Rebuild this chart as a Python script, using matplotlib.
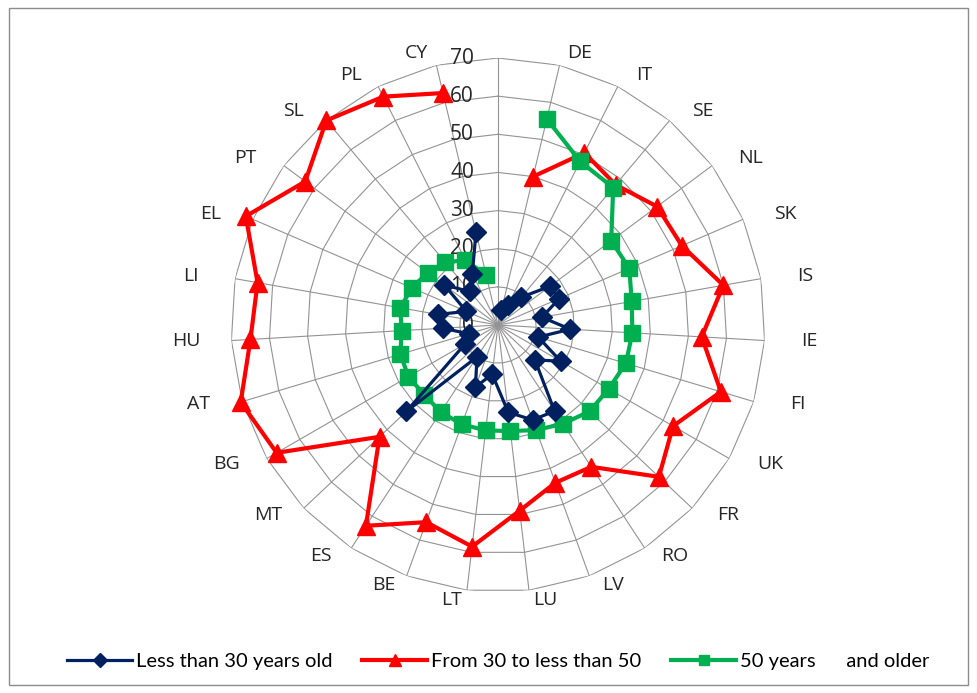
import numpy as np
import matplotlib.pyplot as plt
from matplotlib.patches import Rectangle

plt.rcParams['font.family'] = ['Open Sans', 'DejaVu Sans']

# Данные
countries = ["", "DE", "IT", "SE", "NL", "SK", "IS", "IE", "FI", "UK", "FR", "RO", "LV", "LU",
             "LT", "BE", "ES", "MT", "BG", "AT", "HU", "LI", "EL", "PT", "SL", "PL", "CY"]
under_30 = [np.nan, 4, 6, 9.5, 17, 17.5, 11.7, 19, 11, 19, 13.3, 27, 26.5, 23,
            13, 17.3, 10, 33, 10, 8, 14.5, 16, 9, 17.5, 11.5, 15, 25]
from_30_to_50 = [np.nan, 40, 50.5, 48, 52, 52.5, 60, 53.5, 61, 53, 58, 44.5, 44, 49,
                 58.5, 55, 63, 42.7, 67, 70.4, 65, 64, 72, 63, 70, 67, 62.5]
over_50 = [np.nan, 55.5, 48, 47, 37, 37.5, 35.6, 35.3, 35, 33.5, 33, 31, 29.3, 28,
           27.8, 27.7, 27.3, 26.6, 27.1, 26.7, 25.3, 26, 24.6, 23, 21.5, 19, 13.5]
ticks = [0, 10, 20, 30, 40, 50, 60, 70]
series_names = ["Less than 30 years old", "From 30 to less than 50", "50 years      and older"]

n = len(countries)
theta = np.arange(n) * 2 * np.pi / n
theta_closed = np.append(theta, theta[0])

fig = plt.figure(figsize=(9.77, 6.93), dpi=100)
fig.patches.append(Rectangle((0.009, 0.012), 0.982, 0.976, transform=fig.transFigure,
                             fill=False, edgecolor='#8c8c8c', lw=1))

ax = fig.add_axes([0.2364, 0.1457, 0.5466, 0.7706], projection='polar')
ax.set_theta_zero_location('N')
ax.set_theta_direction(-1)
ax.set_ylim(0, 70)
ax.grid(False)
ax.spines['polar'].set_visible(False)
ax.set_xticks([])
ax.set_yticks([])

# сетка-многоугольник
grid_color = '#939393'
for r in ticks[1:]:
    ax.plot(theta_closed, [r] * (n + 1), color=grid_color, lw=0.8, zorder=1)
for t in theta:
    ax.plot([t, t], [0, 70], color=grid_color, lw=0.8, zorder=1)

# подписи категорий (сдвиг от конца луча в пикселях)
for t, name in zip(theta, countries):
    s, c = np.sin(t), np.cos(t)
    dx = 33 * s + 12 * np.sign(np.round(s, 6))
    dy = (13 if c > 0 else 10) * c
    ax.annotate(name, xy=(t, 70), xytext=(dx, dy), textcoords='offset pixels',
                ha='center', va='center', fontsize=14, color='#262626')

# подписи оси значений
for v in ticks:
    ax.annotate(str(v), xy=(0, v), xytext=(-24, 0), textcoords='offset pixels',
                ha='right', va='center', fontsize=15, color='#262626', zorder=2)

l1, = ax.plot(theta_closed, under_30 + [under_30[0]], color='#002060', lw=2.3,
              marker='D', markersize=10, zorder=5, clip_on=False)
l2, = ax.plot(theta_closed, from_30_to_50 + [from_30_to_50[0]], color='#ff0000', lw=3,
              marker='^', markersize=13, zorder=3, clip_on=False)
l3, = ax.plot(theta_closed, over_50 + [over_50[0]], color='#00b050', lw=3,
              marker='s', markersize=11, zorder=4, clip_on=False)

fig.legend([l1, l2, l3], series_names, loc='center', bbox_to_anchor=(0.51, 0.046),
           ncol=3, frameon=False, handlelength=3.2, columnspacing=1.5,
           handletextpad=0.2, markerscale=0.7,
           prop={'family': ['Lato', 'DejaVu Sans'], 'size': 14.5})

fig.savefig('out.png', dpi=100)
